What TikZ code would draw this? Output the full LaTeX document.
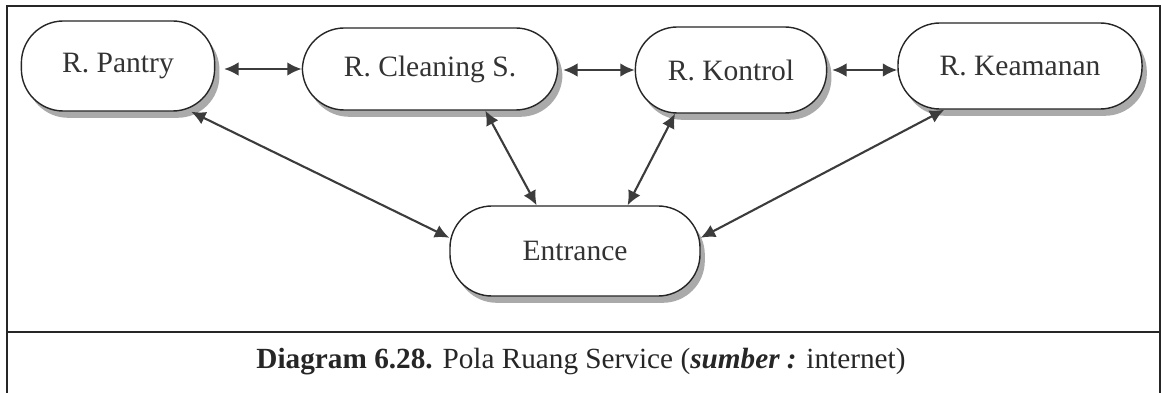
\documentclass[tikz,border=0pt]{standalone}
\usepackage{fontspec}
\setmainfont{Liberation Serif}
\usetikzlibrary{arrows.meta,shadows}

\definecolor{linegray}{RGB}{60,60,60}
\definecolor{shadowgray}{RGB}{170,170,170}

\tikzset{
	room/.style={draw=black!85,fill=white,line width=1pt,rounded corners=1.05cm,
		font=\fontsize{21}{24}\selectfont,text=black!80,
		drop shadow={shadow xshift=0.12cm,shadow yshift=-0.17cm,fill=shadowgray,opacity=1}},
	link/.style={linegray,line width=1.5pt,{Latex[length=0.36cm,width=0.34cm]}-{Latex[length=0.36cm,width=0.34cm]}},
}

\begin{document}
\begin{tikzpicture}[x=0.025cm,y=-0.025cm]
	\useasboundingbox (0,0) rectangle (1161,393);

	% table frame round the diagram and the caption
	\draw[line width=1pt,black!85] (7,393) -- (7,6) -- (1160,6) -- (1160,393);
	\draw[line width=1pt,black!85] (7,332) -- (1160,332);

	% rooms
	\node[room,minimum width=4.83cm,minimum height=2.25cm] (pantry) at (118,66) {R. Pantry};
	\node[room,minimum width=6.38cm,minimum height=2.05cm] (cleaning) at (430,69) {R. Cleaning S.};
	\node[room,minimum width=4.78cm,minimum height=2.15cm] (kontrol) at (731,70) {R. Kontrol};
	\node[room,minimum width=6.1cm,minimum height=2.15cm] (keamanan) at (1020,66) {R. Keamanan};
	\node[room,minimum width=6.25cm,minimum height=2.25cm] (entrance) at (575,251) {Entrance};

	% links between the rooms
	\draw[link,shorten <=0.22cm] (pantry.east |- cleaning) -- (cleaning.west);
	\draw[link,shorten <=0.12cm] (cleaning.east |- kontrol) -- (kontrol.west);
	\draw[link,shorten <=0.12cm] (kontrol.east) -- (kontrol.east -| keamanan.west);

	\draw[link] (pantry.-32) -- (entrance.174);
	\draw[link] (cleaning.-37) -- (entrance.130);
	\draw[link] (kontrol.218) -- (entrance.41);
	\draw[link] (keamanan.210) -- (entrance.6);

	% caption
	\node[font=\fontsize{20.8}{24}\selectfont,text=black!85] (caption) at (581,362)
		{\textbf{Diagram 6.28.} Pola Ruang Service (\textbf{\textit{sumber :}} internet)};
\end{tikzpicture}
\end{document}
